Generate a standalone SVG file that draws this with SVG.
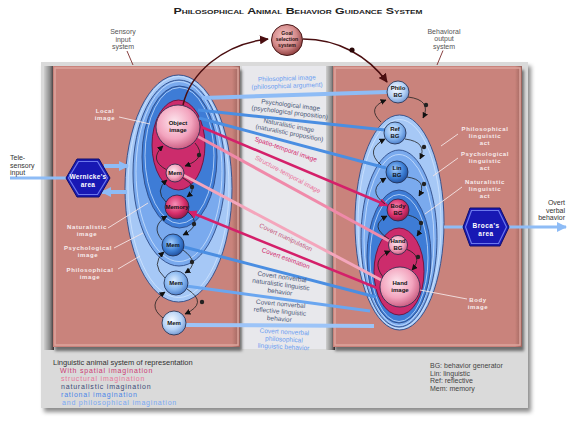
<svg xmlns="http://www.w3.org/2000/svg" width="576" height="421" viewBox="0 0 576 421">
<defs>
<style>
text{font-family:"Liberation Sans",Arial,sans-serif}
.lbl{font-size:7px;fill:#555;text-anchor:middle}
.wl{font-size:6px;font-weight:bold;fill:#f8ecec;text-anchor:middle;letter-spacing:0.6px}
.nt{font-size:6px;font-weight:bold;fill:#111;text-anchor:middle}
.ct{font-size:6.5px;text-anchor:middle}
.lead{stroke:#f4e4e4;stroke-width:0.9;fill:none}
.arc{stroke:#222;stroke-width:0.8;fill:none;marker-end:url(#ah)}
.dot{fill:#222}
.node{stroke:#1e2a4a;stroke-width:0.8}
.ring{stroke:#2c4a86;stroke-width:0.9}
.hl{fill:none;stroke:#d6e8ff;stroke-width:1;opacity:0.7}
.panel{fill:#c9837b}
.leg{font-size:7px;letter-spacing:0.8px}
.key{font-size:7px;fill:#444}
.io{font-size:7px;fill:#333}
.gs{font-size:5.2px;font-weight:bold;fill:#2a1010;text-anchor:middle}
.hx{font-size:6.5px;font-weight:bold;fill:#fff;text-anchor:middle}
</style>
<marker id="ah" viewBox="0 0 10 10" refX="9" refY="5" markerWidth="6" markerHeight="6" markerUnits="userSpaceOnUse" orient="auto"><path d="M0,0 L10,5 L0,10 z" fill="#111"/></marker>
<marker id="ahD" viewBox="0 0 10 10" refX="9" refY="5" markerWidth="9" markerHeight="9" markerUnits="userSpaceOnUse" orient="auto"><path d="M0,0 L10,5 L0,10 z" fill="#4a0e10"/></marker>
<marker id="ahM" viewBox="0 0 10 10" refX="9" refY="5" markerWidth="9" markerHeight="9" markerUnits="userSpaceOnUse" orient="auto"><path d="M0,0 L10,5 L0,10 z" fill="#d4206a"/></marker>
<marker id="ahB" viewBox="0 0 10 10" refX="9" refY="5" markerWidth="10" markerHeight="10" markerUnits="userSpaceOnUse" orient="auto"><path d="M0,0 L10,5 L0,10 z" fill="#8ebcf6"/></marker>
<radialGradient id="gPk" cx="0.42" cy="0.38" r="0.65"><stop offset="0" stop-color="#fde6ee"/><stop offset="0.6" stop-color="#f3a4be"/><stop offset="1" stop-color="#c8587e"/></radialGradient>
<radialGradient id="gMg" cx="0.42" cy="0.38" r="0.65"><stop offset="0" stop-color="#f690b6"/><stop offset="0.6" stop-color="#d8306c"/><stop offset="1" stop-color="#8e1846"/></radialGradient>
<radialGradient id="gBd" cx="0.42" cy="0.38" r="0.65"><stop offset="0" stop-color="#a4ccfa"/><stop offset="0.6" stop-color="#3e80d6"/><stop offset="1" stop-color="#1e4c9a"/></radialGradient>
<radialGradient id="gBm" cx="0.42" cy="0.38" r="0.65"><stop offset="0" stop-color="#dcecff"/><stop offset="0.6" stop-color="#86b6f0"/><stop offset="1" stop-color="#4a7cc8"/></radialGradient>
<radialGradient id="gBl" cx="0.42" cy="0.38" r="0.65"><stop offset="0" stop-color="#f6faff"/><stop offset="0.6" stop-color="#b6d2f6"/><stop offset="1" stop-color="#7096d0"/></radialGradient>
<radialGradient id="gGoal" cx="0.42" cy="0.38" r="0.65"><stop offset="0" stop-color="#f6c8c8"/><stop offset="0.6" stop-color="#d48a8a"/><stop offset="1" stop-color="#8a3a3a"/></radialGradient>
<linearGradient id="gSideL" x1="0" x2="1" y1="0" y2="0"><stop offset="0" stop-color="#cfcfcf"/><stop offset="0.6" stop-color="#8a8a8a"/><stop offset="1" stop-color="#3c3030"/></linearGradient>
<linearGradient id="gEdgeR" x1="0" x2="1" y1="0" y2="0"><stop offset="0" stop-color="#c9837b"/><stop offset="1" stop-color="#9a625c"/></linearGradient>
<filter id="sh" x="-5%" y="-5%" width="115%" height="115%"><feDropShadow dx="3" dy="4" stdDeviation="2" flood-color="#000" flood-opacity="0.45"/></filter>
<filter id="sh2" x="-5%" y="-5%" width="115%" height="115%"><feDropShadow dx="2" dy="4" stdDeviation="1.5" flood-color="#000" flood-opacity="0.5"/></filter>
</defs>

<!-- background panels -->
<g id="panels">
<rect x="41" y="62" width="487" height="346" fill="#dadada" filter="url(#sh)"/>
<rect x="242" y="66" width="88" height="283" fill="#e8e8ec"/>
<rect x="44" y="66" width="10" height="284" fill="url(#gSideL)"/>
<rect x="53" y="66" width="187" height="281" class="panel" filter="url(#sh2)"/>
<rect x="232" y="66" width="8" height="281" fill="url(#gEdgeR)"/>
<rect x="55" y="68" width="183" height="277" fill="none" stroke="#dda59d" stroke-width="1.5"/>
<rect x="326" y="66" width="9" height="284" fill="url(#gSideL)"/>
<rect x="333" y="66" width="189" height="281" class="panel" filter="url(#sh2)"/>
<rect x="515" y="66" width="7" height="281" fill="url(#gEdgeR)"/>
<rect x="335" y="68" width="185" height="277" fill="none" stroke="#dda59d" stroke-width="1.5"/>
</g>

<text x="298" y="13.5" font-size="9" font-weight="bold" fill="#222" text-anchor="middle" font-variant="small-caps" textLength="249" lengthAdjust="spacingAndGlyphs">Philosophical Animal Behavior Guidance System</text>

<!-- system labels -->
<g id="sensory-label">
<text class="lbl" x="123" y="34">Sensory</text>
<text class="lbl" x="123" y="41.5">input</text>
<text class="lbl" x="123" y="49">system</text>
<line x1="127" y1="51" x2="133" y2="65" stroke="#7a2a2a" stroke-width="0.9"/>
</g>
<g id="behavioral-label">
<text class="lbl" x="444" y="33.5">Behavioral</text>
<text class="lbl" x="444" y="41">output</text>
<text class="lbl" x="444" y="48.5">system</text>
<line x1="443" y1="50.5" x2="437" y2="65" stroke="#7a2a2a" stroke-width="0.9"/>
</g>

<!-- nested ellipses -->
<g id="sensory-ellipses">
<ellipse cx="178.5" cy="188.5" rx="53.5" ry="113.5" fill="#a6c8f6" class="ring"/>
<ellipse cx="178.5" cy="187" rx="50.5" ry="110.5" class="hl"/>
<ellipse cx="179" cy="173" rx="46" ry="93" fill="#7aaaee" class="ring"/>
<ellipse cx="179" cy="171.5" rx="43" ry="90" class="hl"/>
<ellipse cx="179.5" cy="157" rx="37.5" ry="71" fill="#3e7cd6" class="ring"/>
<ellipse cx="179.5" cy="155.5" rx="34.5" ry="68" class="hl"/>
<ellipse cx="178.5" cy="145" rx="26.5" ry="45" fill="#cc2c6c" stroke="#6e1038" stroke-width="0.9"/>
</g>
<g id="behavioral-ellipses">
<ellipse cx="399.5" cy="222.5" rx="44.5" ry="107.5" fill="#a6c8f6" class="ring"/>
<ellipse cx="399.5" cy="224" rx="41.5" ry="104.5" class="hl"/>
<ellipse cx="399" cy="238.5" rx="38" ry="88.5" fill="#7aaaee" class="ring"/>
<ellipse cx="399" cy="240" rx="35" ry="85.5" class="hl"/>
<ellipse cx="399" cy="256.5" rx="32" ry="66.5" fill="#3e7cd6" class="ring"/>
<ellipse cx="399" cy="258" rx="29" ry="63.5" class="hl"/>
<ellipse cx="399" cy="271.5" rx="25" ry="43.5" fill="#cc2c6c" stroke="#6e1038" stroke-width="0.9"/>
</g>

<!-- panel labels -->
<g id="panel-labels">
<text class="wl" x="105" y="113">Local</text>
<text class="wl" x="105" y="120">image</text>
<line class="lead" x1="119" y1="117" x2="150" y2="124"/>
<text class="wl" x="87" y="229">Naturalistic</text>
<text class="wl" x="87" y="236">image</text>
<line class="lead" x1="108" y1="228" x2="148" y2="203"/>
<text class="wl" x="88" y="250">Psychological</text>
<text class="wl" x="88" y="257">image</text>
<line class="lead" x1="114" y1="248" x2="143" y2="233"/>
<text class="wl" x="90" y="272">Philosophical</text>
<text class="wl" x="90" y="279">image</text>
<line class="lead" x1="118" y1="269" x2="140" y2="256"/>
<text class="wl" x="485" y="131">Philosophical</text>
<text class="wl" x="485" y="138">linguistic</text>
<text class="wl" x="485" y="145">act</text>
<line class="lead" x1="458" y1="134" x2="441" y2="146"/>
<text class="wl" x="485" y="156">Psychological</text>
<text class="wl" x="485" y="163">linguistic</text>
<text class="wl" x="485" y="170">act</text>
<line class="lead" x1="458" y1="158" x2="433" y2="176"/>
<text class="wl" x="485" y="184">Naturalistic</text>
<text class="wl" x="485" y="191">linguistic</text>
<text class="wl" x="485" y="198">act</text>
<line class="lead" x1="462" y1="187" x2="425" y2="214"/>
<text class="wl" x="478" y="302">Body</text>
<text class="wl" x="478" y="309">image</text>
<line class="lead" x1="467" y1="299" x2="420" y2="290"/>
</g>

<!-- connectors -->
<g id="connectors">
<path d="M10,178 L66,178" stroke="#8ebcf6" stroke-width="3" fill="none"/>
<path d="M104,166 L128,166" stroke="#8ebcf6" stroke-width="4" fill="none" marker-end="url(#ahB)"/>
<path d="M127,192 L102,192" stroke="#8ebcf6" stroke-width="4" fill="none" marker-end="url(#ahB)"/>
<path d="M444,227 L464,227" stroke="#8ebcf6" stroke-width="3" fill="none"/>
<path d="M508,227 L566,227" stroke="#8ebcf6" stroke-width="3" fill="none" marker-end="url(#ahB)"/>

<path d="M183,105 C190,74 222,44 268,39" stroke="#4a0e10" stroke-width="1.5" fill="none" marker-end="url(#ahD)"/>
<path d="M303,39 C338,39 368,56 387,82" stroke="#4a0e10" stroke-width="1.5" fill="none" marker-end="url(#ahD)"/>
<circle cx="352" cy="50" r="2.6" fill="#2a0808"/>

<path d="M202,98 L387,92" stroke="#8ebcf6" stroke-width="4" fill="none"/>
<path d="M198,110 L385,130" stroke="#4a8ee2" stroke-width="3" fill="none"/>
<path d="M199,118 L386,168" stroke="#4a8ee2" stroke-width="3" fill="none"/>
<path d="M199,126 L387.5,205.5" stroke="#d4206a" stroke-width="2.5" fill="none" marker-end="url(#ahM)"/>
<path d="M197,136 L389,241" stroke="#f08aaa" stroke-width="3" fill="none"/>
<path d="M183,175 L383,281" stroke="#f4a6bc" stroke-width="3" fill="none"/>
<path d="M382,290 L188.5,211.5" stroke="#d4206a" stroke-width="2.5" fill="none" marker-end="url(#ahM)"/>
<path d="M184,247 L376,297" stroke="#4a8ee2" stroke-width="3" fill="none"/>
<path d="M186,286 L370,311" stroke="#6aa6f0" stroke-width="3" fill="none"/>
<path d="M186,325 L374,326" stroke="#9cc4f8" stroke-width="4" fill="none"/>

<path class="arc" d="M195,143 Q208,158 185,166"/><circle class="dot" cx="199" cy="155" r="2.2"/>
<path class="arc" d="M167,170 Q148,160 163,146"/>
<path class="arc" d="M183,178 Q200,187 187,197"/><circle class="dot" cx="192" cy="187" r="2.2"/>
<path class="arc" d="M166,202 Q154,191 167,180"/>
<path class="arc" d="M188,212 Q203,225 183,235"/><circle class="dot" cx="194" cy="224" r="2.2"/>
<path class="arc" d="M162,240 Q150,226 167,216"/>
<path class="arc" d="M183,250 Q201,263 185,273"/><circle class="dot" cx="192" cy="262" r="2.2"/>
<path class="arc" d="M165,278 Q150,264 164,252"/>
<path class="arc" d="M187,289 Q209,303 185,314"/><circle class="dot" cx="202" cy="302" r="2.2"/>
<path class="arc" d="M163,318 Q146,305 165,292"/>

<path class="arc" d="M408,97 Q432,100 423,118"/><circle class="dot" cx="426" cy="105" r="2.2"/>
<path class="arc" d="M381,122 Q366,108 386,100"/>
<path class="arc" d="M405,139 Q428,142 420,159"/><circle class="dot" cx="424" cy="147" r="2.2"/>
<path class="arc" d="M381,165 Q364,150 385,139"/>
<path class="arc" d="M407,177 Q428,180 419,196"/><circle class="dot" cx="424" cy="184" r="2.2"/>
<path class="arc" d="M385,204 Q366,190 386,178"/>
<path class="arc" d="M408,215 Q428,220 417,236"/><circle class="dot" cx="421" cy="223" r="2.2"/>
<path class="arc" d="M389,239 Q368,226 387,216"/>
<path class="arc" d="M406,249 Q424,256 412,270"/><circle class="dot" cx="418" cy="257" r="2.2"/>
<path class="arc" d="M383,277 Q370,260 390,251"/>
</g>

<!-- connector labels -->
<g id="connector-labels">
<g transform="rotate(-2 287 84)" fill="#6c9ef0"><text class="ct" x="287" y="80.5">Philosophical image</text><text class="ct" x="287" y="88">(philosophical argument)</text></g>
<g transform="rotate(7 290 110)" fill="#4c5878"><text class="ct" x="290" y="107">Psychological image</text><text class="ct" x="290" y="114.5">(psychological proposition)</text></g>
<g transform="rotate(11 289 130)" fill="#4c5878"><text class="ct" x="288" y="127.5">Naturalistic image</text><text class="ct" x="290" y="135">(naturalistic proposition)</text></g>
<text class="ct" x="286" y="151.5" fill="#d4246c" transform="rotate(19 286 149)">Spatio-temporal image</text>
<text class="ct" x="288" y="176.5" fill="#e8709a" transform="rotate(28 288 174)">Structure-temporal image</text>
<text class="ct" x="286" y="239.5" fill="#c45a80" transform="rotate(25 286 237)">Covert manipulation</text>
<text class="ct" x="286" y="260.5" fill="#d02a70" transform="rotate(20 286 258)">Covert estimation</text>
<g transform="rotate(8 281 284)" fill="#4c5878"><text class="ct" x="281" y="279">Covert nonverbal</text><text class="ct" x="281" y="286.5">naturalistic linguistic</text><text class="ct" x="281" y="294">behavior</text></g>
<g transform="rotate(5 280 311)" fill="#4c5878"><text class="ct" x="280" y="306">Covert nonverbal</text><text class="ct" x="280" y="313.5">reflective linguistic</text><text class="ct" x="280" y="321">behavior</text></g>
<g transform="rotate(3 284 339)" fill="#6c9ef0"><text class="ct" x="284" y="334">Covert nonverbal</text><text class="ct" x="284" y="341.5">philosophical</text><text class="ct" x="284" y="349">linguistic behavior</text></g>
</g>

<!-- nodes -->
<g id="goal-selection-system">
<circle cx="287" cy="40" r="15.5" fill="url(#gGoal)" stroke="#4a1a1a" stroke-width="1"/>
<text class="gs" x="287" y="35">Goal</text>
<text class="gs" x="287" y="41">selection</text>
<text class="gs" x="287" y="47">system</text>
</g>
<g id="wernickes-area">
<polygon points="77,159 99,159 110,178 99,197 77,197 66,178" fill="#1818b4" stroke="#10106a" stroke-width="1"/>
<polygon points="78.5,161.5 97.5,161.5 107.5,178 97.5,194.5 78.5,194.5 68.5,178" fill="none" stroke="#6c78ec" stroke-width="1.2"/>
<text class="hx" x="88" y="178.5" letter-spacing="0.3">Wernicke's</text>
<text class="hx" x="88" y="186.5" letter-spacing="0.3">area</text>
</g>
<g id="brocas-area">
<polygon points="470,208 500,208 509,227 500,246 470,246 463,227" fill="#1818b4" stroke="#10106a" stroke-width="1"/>
<polygon points="471.5,210.5 498.5,210.5 506.5,227 498.5,243.5 471.5,243.5 465.5,227" fill="none" stroke="#6c78ec" stroke-width="1.2"/>
<text class="hx" x="486" y="227.5" letter-spacing="0.5">Broca's</text>
<text class="hx" x="486" y="235.5" letter-spacing="0.5">area</text>
</g>

<g id="object-image"><circle class="node" cx="178" cy="127" r="22" fill="url(#gPk)"/><text class="nt" x="178" y="124.5" font-size="6.5">Object</text><text class="nt" x="178" y="132" font-size="6.5">image</text></g>
<g id="mem-1"><circle class="node" cx="175" cy="173" r="9" fill="url(#gPk)"/><text class="nt" x="175" y="175.2">Mem</text></g>
<g id="memory"><circle class="node" cx="177" cy="207" r="12" fill="url(#gMg)"/><text class="nt" x="177" y="209.2">Memory</text></g>
<g id="mem-2"><circle class="node" cx="173" cy="245" r="11" fill="url(#gBd)"/><text class="nt" x="173" y="247.2" font-size="6.5">Mem</text></g>
<g id="mem-3"><circle class="node" cx="176" cy="283" r="12" fill="url(#gBm)"/><text class="nt" x="176" y="285.2" font-size="6.5">Mem</text></g>
<g id="mem-4"><circle class="node" cx="174" cy="323" r="12" fill="url(#gBl)"/><text class="nt" x="174" y="325.2" font-size="6.5">Mem</text></g>

<g id="philo-bg"><circle class="node" cx="398" cy="92" r="11" fill="url(#gBl)"/><text class="nt" x="398" y="90">Philo</text><text class="nt" x="398" y="97">BG</text></g>
<g id="ref-bg"><circle class="node" cx="395" cy="133" r="11" fill="url(#gBm)"/><text class="nt" x="395" y="131">Ref</text><text class="nt" x="395" y="138">BG</text></g>
<g id="lin-bg"><circle class="node" cx="397" cy="172" r="11" fill="url(#gBd)"/><text class="nt" x="397" y="170">Lin</text><text class="nt" x="397" y="177">BG</text></g>
<g id="body-bg"><circle class="node" cx="398" cy="210" r="11" fill="url(#gMg)"/><text class="nt" x="398" y="208">Body</text><text class="nt" x="398" y="215">BG</text></g>
<g id="hand-bg"><circle class="node" cx="398" cy="245" r="9.5" fill="url(#gPk)"/><text class="nt" x="398" y="243">Hand</text><text class="nt" x="398" y="250">BG</text></g>
<g id="hand-image"><circle class="node" cx="400" cy="287" r="20" fill="url(#gPk)"/><text class="nt" x="400" y="284.5" font-size="6.5">Hand</text><text class="nt" x="400" y="292" font-size="6.5">image</text></g>

<!-- outside labels -->
<g id="io-labels">
<text class="io" x="10" y="160">Tele-</text>
<text class="io" x="10" y="167.5">sensory</text>
<text class="io" x="10" y="175">input</text>
<text class="io" x="565" y="205" text-anchor="end">Overt</text>
<text class="io" x="565" y="212.5" text-anchor="end">verbal</text>
<text class="io" x="565" y="220" text-anchor="end">behavior</text>
</g>

<!-- legends -->
<g id="legend-left">
<text x="53" y="365" font-size="7.5" fill="#333">Linguistic animal system of representation</text>
<text class="leg" x="60" y="372.5" fill="#cc3a72">With spatial imagination</text>
<text class="leg" x="61" y="380.5" fill="#e8789a">structural imagination</text>
<text class="leg" x="61" y="388.5" fill="#3c4c78">naturalistic imagination</text>
<text class="leg" x="61" y="396.5" fill="#4a86e8">rational imagination</text>
<text class="leg" x="62" y="404.5" fill="#78a8f4">and philosophical imagination</text>
</g>
<g id="legend-right">
<text class="key" x="430" y="368">BG: behavior generator</text>
<text class="key" x="430" y="375.5">Lin: linguistic</text>
<text class="key" x="430" y="383">Ref: reflective</text>
<text class="key" x="430" y="390.5">Mem: memory</text>
</g>
</svg>
